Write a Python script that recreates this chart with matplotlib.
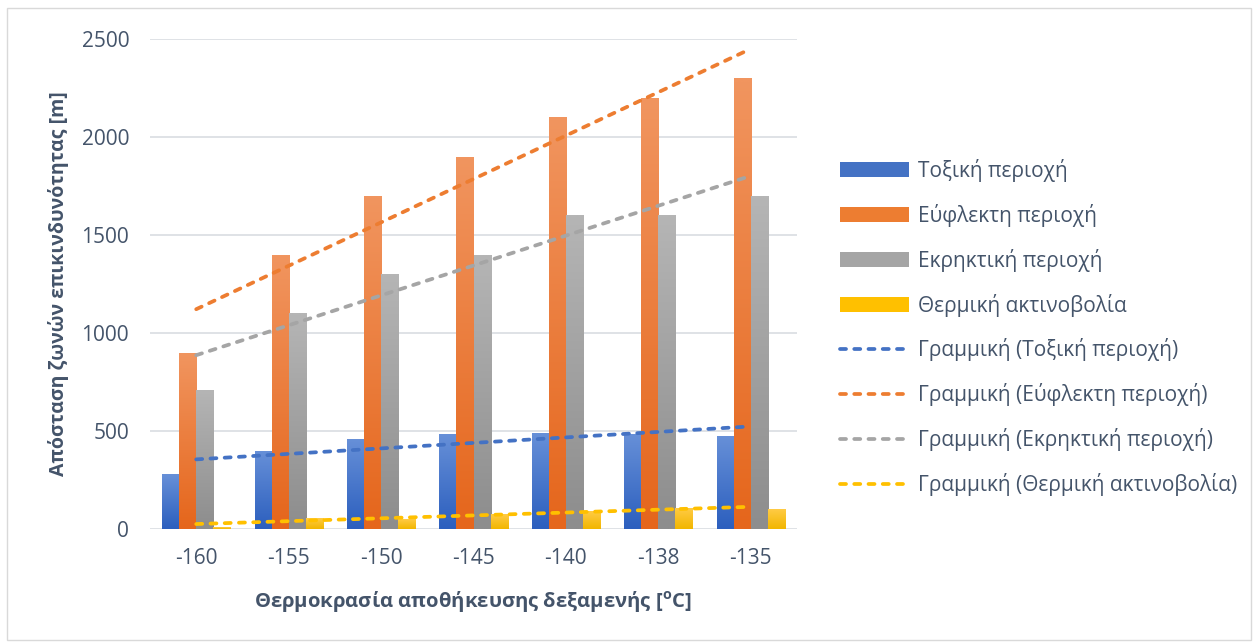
import numpy as np
import matplotlib
matplotlib.use("Agg")
import matplotlib.pyplot as plt
from matplotlib.patches import Patch, Rectangle
from matplotlib.lines import Line2D
from matplotlib.colors import to_rgb

# ---- data -------------------------------------------------------------
temperatures = ["-160", "-155", "-150", "-145", "-140", "-138", "-135"]

toxic = [280, 400, 460, 485, 490, 485, 475]
flammable = [900, 1400, 1700, 1900, 2100, 2200, 2300]
explosive = [710, 1100, 1300, 1400, 1600, 1600, 1700]
thermal = [10, 55, 50, 75, 90, 105, 100]

series_names = ["Τοξική περιοχή", "Εύφλεκτη περιοχή", "Εκρηκτική περιοχή", "Θερμική ακτινοβολία"]
series_values = [toxic, flammable, explosive, thermal]

# linear trendline of the flammable zone uses a fixed intercept
trend_intercepts = {"Εύφλεκτη περιοχή": 900}

y_ticks = [0, 500, 1000, 1500, 2000, 2500]

# ---- style -------------------------------------------------------------
plt.rcParams["font.family"] = ["Open Sans", "DejaVu Sans"]
plt.rcParams["mathtext.fontset"] = "custom"
plt.rcParams["mathtext.rm"] = "Open Sans"
plt.rcParams["mathtext.bf"] = "Open Sans:bold"

TEXT = "#44546A"
GRID = "#DCDFE4"
top_colors = ["#6790D8", "#F1955F", "#B5B5B5", "#FFCB45"]
bottom_colors = ["#2C5FBE", "#E5661C", "#8D8D8D", "#F2B600"]
mid_colors = ["#4472C4", "#ED7D31", "#A5A5A5", "#FFC000"]
trend_colors = ["#4472C4", "#ED7D31", "#A5A5A5", "#FFC000"]
TREND_LW = 2.7
TREND_DASH = (0, (1.6, 2.2))

W, H = 1259, 643
fig = plt.figure(figsize=(W / 100, H / 100), dpi=100)
fig.patch.set_facecolor("white")

# chart-area border
fig.add_artist(Rectangle((7 / W, 1 - 640 / H), (1251 - 7) / W, (640 - 8) / H,
                         transform=fig.transFigure, fill=False,
                         edgecolor="#D9D9D9", linewidth=1.0))

ax = fig.add_axes([150 / W, 1 - 529 / H, (797 - 150) / W, (529 - 39) / H])

n_cat = len(temperatures)
x = np.arange(n_cat)
bar_w = 0.184
offsets = (np.arange(4) - 1.5) * bar_w


def gradient_bar(ax, xc, h, top, bottom):
    rect = ax.bar(xc, h, width=bar_w, color="none", edgecolor="none", zorder=2)[0]
    t = np.array(to_rgb(top))
    b = np.array(to_rgb(bottom))
    f = np.linspace(0, 1, 64)[:, None]
    img = (b * (1 - f) + t * f)[:, None, :]
    im = ax.imshow(img, extent=[xc - bar_w / 2, xc + bar_w / 2, 0, h],
                   origin="lower", aspect="auto", interpolation="bilinear", zorder=2)
    im.set_clip_path(rect)


for i, vals in enumerate(series_values):
    for j, v in enumerate(vals):
        gradient_bar(ax, x[j] + offsets[i], v, top_colors[i], bottom_colors[i])

# linear trendlines (category index 1..n as the x variable)
xi = np.arange(1, n_cat + 1)
for i, (name, vals) in enumerate(zip(series_names, series_values)):
    y = np.asarray(vals, dtype=float)
    if name in trend_intercepts:
        a = trend_intercepts[name]
        b = np.sum(xi * (y - a)) / np.sum(xi * xi)
    else:
        b, a = np.polyfit(xi, y, 1)
    ax.plot(x, a + b * xi, color=trend_colors[i], linewidth=TREND_LW,
            linestyle=TREND_DASH, dash_capstyle="round", zorder=3)

ax.set_xlim(-0.5, n_cat - 0.5)
ax.set_ylim(0, 2500)
ax.set_yticks(y_ticks)
ax.set_xticks(x)
ax.set_xticklabels(temperatures)
ax.yaxis.grid(True, color=GRID, linewidth=1.3, zorder=0)
ax.set_axisbelow(True)
for s in ax.spines.values():
    s.set_visible(False)
ax.tick_params(axis="both", length=0, labelsize=15, colors=TEXT)
ax.tick_params(axis="y", pad=15)
ax.tick_params(axis="x", pad=14)

fig.text(473 / W, 1 - 601 / H, r"Θερμοκρασία αποθήκευσης δεξαμενής [$^{\mathbf{o}}$C]",
         ha="center", va="center", fontsize=14.6, fontweight="bold", color=TEXT)
fig.text(59 / W, 1 - 284 / H, "Απόσταση ζωνών επικινδυνότητας [m]",
         ha="center", va="center", rotation=90, fontsize=14, fontweight="bold", color=TEXT)

handles = [Patch(facecolor=c, edgecolor="none") for c in mid_colors]
handles += [Line2D([0], [0], color=c, linewidth=TREND_LW, linestyle=TREND_DASH,
                   dash_capstyle="round") for c in trend_colors]
labels = list(series_names) + ["Γραμμική (%s)" % n for n in series_names]

leg = fig.legend(handles, labels, loc="center left",
                 bbox_to_anchor=(840 / W, 1 - 327.5 / H), frameon=False,
                 fontsize=15, handlelength=3.3, handleheight=0.7,
                 handletextpad=0.45, labelspacing=1.05, borderpad=0,
                 borderaxespad=0)
for t in leg.get_texts():
    t.set_color(TEXT)

fig.savefig("out.png", dpi=100, facecolor="white")
